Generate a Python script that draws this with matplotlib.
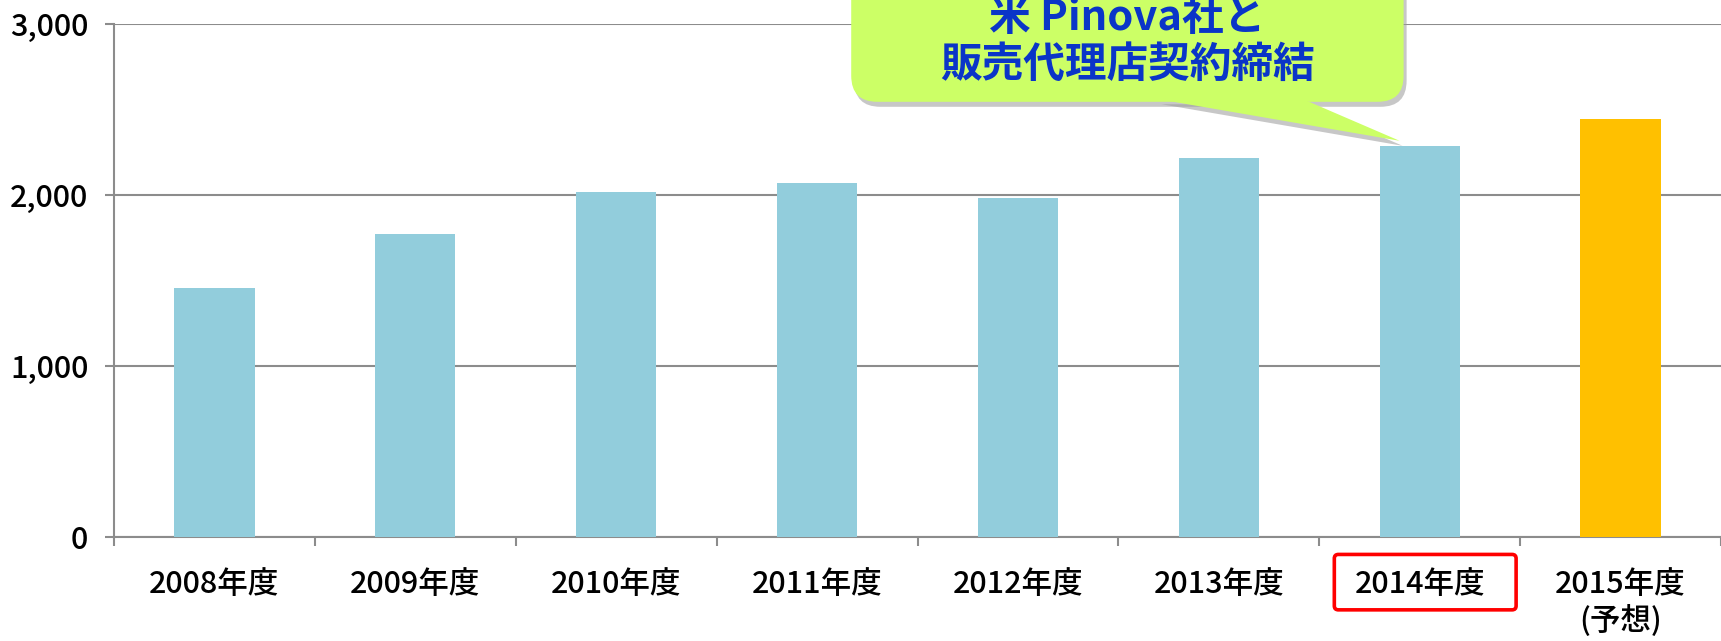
import numpy as np
import matplotlib.pyplot as plt
from matplotlib.patches import FancyBboxPatch, Polygon
from matplotlib import transforms

plt.rcParams['font.family'] = ['Noto Sans CJK JP', 'DejaVu Sans']

# data
years = ['2008年度', '2009年度', '2010年度', '2011年度', '2012年度',
         '2013年度', '2014年度', '2015年度\n(予想)']
sales = [1458, 1773, 2017, 2068, 1985, 2216, 2287, 2444]
bar_colors = ['#92cddc'] * 7 + ['#ffc000']
y_ticks = [0, 1000, 2000, 3000]
callout_text = '米 Pinova社と\n販売代理店契約締結'
highlight = 6  # 2014年度

grey = '#8c8c8c'

fig = plt.figure(figsize=(17.21, 6.41), dpi=100)
ax = fig.add_axes([114 / 1721, 104 / 641, 1 - 114 / 1721, 513 / 641])

x = np.arange(len(years))
ax.bar(x, sales, width=0.4, color=bar_colors, zorder=3)

ax.set_xlim(-0.5, len(years) - 0.5)
ax.set_ylim(0, 3000)
ax.set_yticks(y_ticks)
ax.set_yticklabels([f'{v:,}' for v in y_ticks])
ax.yaxis.grid(True, color=grey, lw=1.5)
ax.set_axisbelow(True)

ax.set_xticks(x)
ax.set_xticklabels(years, fontweight='medium')
ax.set_xticks(np.arange(-0.5, len(years)), minor=True)
ax.tick_params(axis='x', which='major', length=0, pad=23, labelsize=22)
ax.tick_params(axis='x', which='minor', length=6.5, width=1.5, color=grey)
ax.tick_params(axis='y', length=6.5, width=1.5, color=grey, pad=12, labelsize=22)
for lbl in ax.get_yticklabels():
    lbl.set_fontweight('medium')

for s in ['top', 'right']:
    ax.spines[s].set_visible(False)
for s in ['left', 'bottom']:
    ax.spines[s].set_color(grey)
    ax.spines[s].set_linewidth(1.5)

# red frame round the 2014 label
blend = transforms.blended_transform_factory(ax.transData, ax.transAxes)
frame = FancyBboxPatch((highlight - 0.425, -0.142), 0.905, 0.108, transform=blend,
                       boxstyle='round,pad=0,rounding_size=0.02', mutation_aspect=0.392,
                       fc='none', ec='#ff0000', lw=2.6, clip_on=False, zorder=5)
ax.add_patch(frame)

# speech bubble pointing at the 2014 bar
box_xy = (3.17, 2545)
box_w, box_h = 2.75, 800
tip = (highlight - 0.1, sales[highlight] + 30)
tail_pts = [(4.70, 2560), (5.42, 2560), tip]

shadow_tr = transforms.offset_copy(ax.transData, fig=fig, x=3, y=-5, units='dots')
for tr, fc, z, a in [(shadow_tr, '#9a9a9a', 4, 0.55), (ax.transData, '#ccff66', 5, 1)]:
    ax.add_patch(Polygon(tail_pts, closed=True, fc=fc, ec='none', alpha=a,
                         transform=tr, clip_on=False, zorder=z))
    ax.add_patch(FancyBboxPatch(box_xy, box_w, box_h, transform=tr,
                                boxstyle='round,pad=0,rounding_size=0.13', mutation_aspect=1175,
                                fc=fc, ec='none', alpha=a, clip_on=False, zorder=z))

ax.text(box_xy[0] + box_w / 2, 2900, callout_text, ha='center', va='center',
        multialignment='center', fontsize=30, fontweight='bold', color='#0a35c8',
        linespacing=1.15, zorder=7)

fig.savefig('out.png', dpi=100)
